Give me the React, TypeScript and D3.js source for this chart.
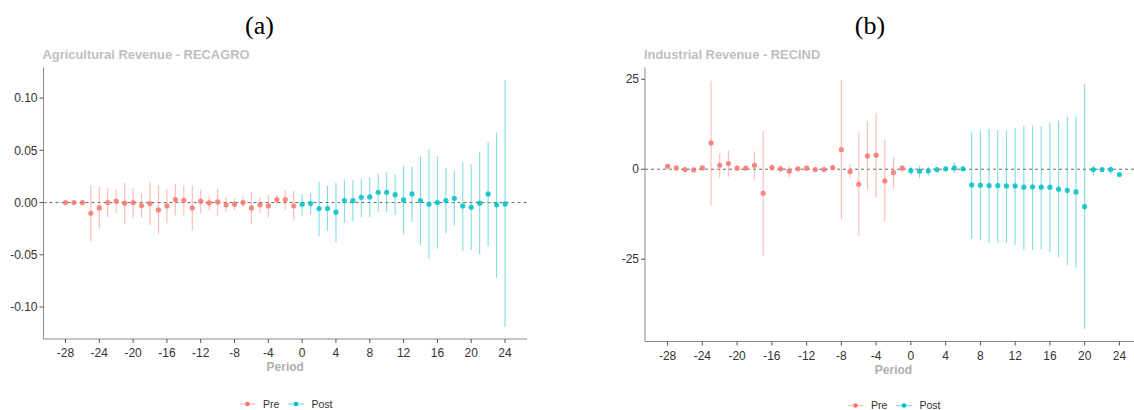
import React from 'react';
import * as d3 from 'd3';

const periods = [
  -28, -27, -26, -25, -24, -23, -22, -21, -20, -19, -18, -17, -16, -15, -14, -13, -12, -11, -10, -9, -8, -7, -6, -5, -4, -3, -2, -1,
  0, 1, 2, 3, 4, 5, 6, 7, 8, 9, 10, 11, 12, 13, 14, 15, 16, 17, 18, 19, 20, 21, 22, 23, 24,
];
const xTicks = [-28, -24, -20, -16, -12, -8, -4, 0, 4, 8, 12, 16, 20, 24];

// Agricultural revenue (a)
const agroEst = [
  0, 0, 0, -0.0102, -0.0051, 0, 0.0013, -0.0006, 0, -0.0029, -0.001, -0.007, -0.0032, 0.0029, 0.0022, -0.0051, 0.0013, -0.0003, 0.0006, -0.0022, -0.0016, 0, -0.0051, -0.0022, -0.0032, 0.0029, 0.0029, -0.0032,
  -0.0016, -0.001, -0.0057, -0.0057, -0.0092, 0.0019, 0.0019, 0.0051, 0.0054, 0.0099, 0.0099, 0.0076, 0.0025, 0.0083, 0.0019, -0.0016, 0, 0.0019, 0.0041, -0.0032, -0.0045, -0.0006, 0.0083, -0.0022, -0.0013,
];
const agroLo = [
  -0.001, -0.001, -0.001, -0.037, -0.0248, -0.014, -0.0099, -0.02, -0.0143, -0.0146, -0.0217, -0.03, -0.0197, -0.0124, -0.0124, -0.0264, -0.0099, -0.007, -0.0124, -0.0089, -0.0073, -0.0041, -0.0204, -0.0099, -0.0146, -0.0022, -0.0067, -0.0172,
  -0.0124, -0.0115, -0.0325, -0.0271, -0.0382, -0.0194, -0.0178, -0.0137, -0.0137, -0.0089, -0.0092, -0.0118, -0.0306, -0.0185, -0.0408, -0.0541, -0.0443, -0.0293, -0.0223, -0.0462, -0.0455, -0.0494, -0.042, -0.072, -0.1188,
];
const agroHi = [
  0.001, 0.001, 0.001, 0.0166, 0.015, 0.0137, 0.012, 0.019, 0.014, 0.0086, 0.0194, 0.0166, 0.013, 0.018, 0.0166, 0.0162, 0.012, 0.0067, 0.0127, 0.005, 0.0038, 0.0057, 0.0102, 0.005, 0.0076, 0.0073, 0.0118, 0.0111,
  0.0083, 0.0092, 0.02, 0.0162, 0.019, 0.022, 0.0213, 0.0226, 0.0239, 0.0277, 0.0287, 0.0271, 0.035, 0.0344, 0.0443, 0.0513, 0.0443, 0.0331, 0.0309, 0.0385, 0.0366, 0.0484, 0.0576, 0.0672, 0.1175,
];
const agroTicks = [-0.1, -0.05, 0, 0.05, 0.1];

// Industrial revenue (b)
const indEst = [
  0.83, 0.37, -0.1, -0.2, 0.37, 7.3, 1.1, 1.57, 0.28, 0.28, 1.1, -6.67, 0.46, 0.1, -0.55, 0.1, 0.28, -0.1, -0.1, 0.46, 5.46, -0.65, -4.17, 3.7, 3.9, -3.24, -0.93, 0.28,
  -0.37, -0.55, -0.46, -0.1, 0.1, 0.37, 0.1, -4.35, -4.44, -4.54, -4.54, -4.63, -4.63, -5, -4.9, -5, -5, -5.55, -5.9, -6.3, -10.4, -0.1, -0.1, -0.1, -1.5,
];
const indLo = [
  0.2, -0.1, -0.4, -0.5, -0.3, -10.1, -2.3, -2.1, -0.3, -0.3, -2.8, -24, -0.5, -0.8, -2.2, -0.3, -0.2, -0.4, -0.4, -0.2, -13.9, -2.4, -18.5, -5.7, -8, -14.5, -5.5, -0.8,
  -1.67, -2.4, -2, -0.65, -0.65, -1.1, -0.5, -19.3, -19.8, -20.5, -20.4, -20.5, -21, -22.4, -22.4, -22.2, -23.1, -24.4, -26.7, -27.5, -44.4, -1.76, -0.7, -1.4, -1.7,
];
const indHi = [
  1.5, 0.8, 0.2, 0.1, 1.0, 24.6, 4.35, 5.1, 0.9, 0.9, 5, 10.6, 1.4, 1.0, 0.9, 0.5, 0.8, 0.2, 0.2, 1.1, 24.8, 1.4, 10.2, 13.4, 15.7, 8.1, 3.4, 1.2,
  0.74, 1, 0.74, 0.46, 0.9, 1.85, 0.7, 10.5, 10.7, 11.2, 11, 10.8, 11.4, 12, 12.2, 11.85, 12.8, 13.5, 14.6, 14.9, 23.7, 1, 0.5, 0.74, -1.3,
];
const indTicks = [-25, 0, 25];

const PRE = '#F8766D';
const POST = '#00BFC4';
const SANS = '"Liberation Sans", Arial, sans-serif';

// ggplot-style labels use a plain hyphen for negatives
const locale = d3.formatLocale({ decimal: '.', thousands: ',', grouping: [3], currency: ['', ''], minus: '-' });

const expand = (lo: number, hi: number) => {
  const pad = (hi - lo) * 0.05;
  return [lo - pad, hi + pad];
};

type PanelProps = {
  title: string;
  est: number[];
  lo: number[];
  hi: number[];
  yTicks: number[];
  fmt: (v: number) => string;
  left: number;
  right: number;
  top: number;
  bottom: number;
  legendX: number;
  legendY: number;
};

const Panel = ({ title, est, lo, hi, yTicks, fmt, left, right, top, bottom, legendX, legendY }: PanelProps) => {
  const x = d3.scaleLinear().domain(expand(d3.min(periods)!, d3.max(periods)!)).range([left, right]);
  const y = d3.scaleLinear().domain(expand(d3.min(lo)!, d3.max(hi)!)).range([bottom, top]);
  const color = (p: number) => (p < 0 ? PRE : POST);

  return (
    <g>
      <text x={left - 1} y={top - 9} fontFamily={SANS} fontWeight="bold" fontSize={12.9} fill="#c0c0c0">{title}</text>
      {/* zero reference */}
      <line x1={left} x2={right} y1={y(0)} y2={y(0)} stroke="#444" strokeWidth={0.8} strokeDasharray="3,3" />
      {periods.map((p, i) => (
        <g key={p}>
          <line x1={x(p)} x2={x(p)} y1={y(lo[i])} y2={y(hi[i])} stroke={color(p)} strokeWidth={1.1} strokeOpacity={0.5} />
          <circle cx={x(p)} cy={y(est[i])} r={2.6} fill={color(p)} fillOpacity={0.85} />
        </g>
      ))}
      {/* axes */}
      <line x1={left} x2={left} y1={top} y2={bottom} stroke="#8a8a8a" strokeWidth={1} />
      <line x1={left} x2={right} y1={bottom} y2={bottom} stroke="#8a8a8a" strokeWidth={1} />
      {yTicks.map(t => (
        <g key={t}>
          <line x1={left - 4} x2={left} y1={y(t)} y2={y(t)} stroke="#555" />
          <text x={left - 6} y={y(t)} dy="0.35em" textAnchor="end" fontFamily={SANS} fontSize={12} fill="#333">{fmt(t)}</text>
        </g>
      ))}
      {xTicks.map(t => (
        <g key={t}>
          <line x1={x(t)} x2={x(t)} y1={bottom} y2={bottom + 4} stroke="#555" />
          <text x={x(t)} y={bottom + 14} dy="0.35em" textAnchor="middle" fontFamily={SANS} fontSize={12} fill="#333">{t}</text>
        </g>
      ))}
      <text x={(left + right) / 2} y={bottom + 28} dy="0.35em" textAnchor="middle" fontFamily={SANS} fontWeight="bold" fontSize={12} fill="#b0b0b0">Period</text>
      {/* legend */}
      {[{ label: 'Pre', c: PRE, dx: 0 }, { label: 'Post', c: POST, dx: 48.5 }].map(l => (
        <g key={l.label} transform={`translate(${legendX + l.dx},${legendY})`}>
          <line x1={0} x2={16} y1={0} y2={0} stroke={l.c} strokeOpacity={0.5} strokeWidth={1.2} />
          <circle cx={8} cy={0} r={2.3} fill={l.c} />
          <text x={23.5} y={0} dy="0.35em" fontFamily={SANS} fontSize={10.5} fill="#333">{l.label}</text>
        </g>
      ))}
    </g>
  );
};

const App = () => (
  <svg width={1134} height={410} style={{ position: 'absolute', left: 0, top: 0, background: '#fff' }}>
    <text x={259.5} y={34} textAnchor="middle" fontFamily='"Liberation Serif", "Times New Roman", serif' fontSize={26} fill="#000">(a)</text>
    <text x={870} y={34} textAnchor="middle" fontFamily='"Liberation Serif", "Times New Roman", serif' fontSize={26} fill="#000">(b)</text>
    <Panel
      title="Agricultural Revenue - RECAGRO"
      est={agroEst} lo={agroLo} hi={agroHi}
      yTicks={agroTicks} fmt={locale.format('.2f')}
      left={43.5} right={527} top={67.5} bottom={339}
      legendX={239.5} legendY={404}
    />
    <Panel
      title="Industrial Revenue - RECIND"
      est={indEst} lo={indLo} hi={indHi}
      yTicks={indTicks} fmt={locale.format('d')}
      left={645} right={1142} top={67.5} bottom={341.5}
      legendX={847.5} legendY={405.5}
    />
  </svg>
);

export default App;
